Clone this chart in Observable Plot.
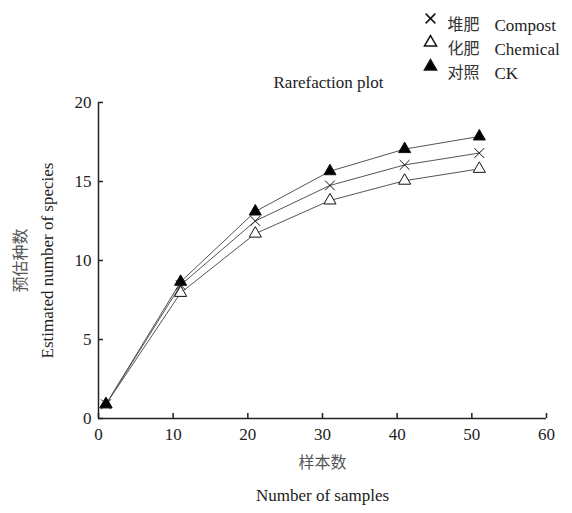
<!DOCTYPE html>
<html><head><meta charset="utf-8">
<script src="https://cdn.jsdelivr.net/npm/d3@7"></script>
<script src="https://cdn.jsdelivr.net/npm/@observablehq/plot@0.6"></script>
<style>body{margin:0;background:#fff}</style>
</head><body><div id="chart"></div>
<script>
const samples = [1, 11, 21, 31, 41, 51];
const compost = [0.9, 8.45, 12.5, 14.75, 16.05, 16.8];
const chemical = [0.9, 7.95, 11.7, 13.8, 15.05, 15.8];
const ck = [0.9, 8.65, 13.1, 15.65, 17.05, 17.85];
const seriesCn = ["堆肥", "化肥", "对照"];
const seriesEn = ["Compost", "Chemical", "CK"];
const xTicks = [0, 10, 20, 30, 40, 50, 60];
const yTicks = [0, 5, 10, 15, 20];

const symbols = ["times", "triangle", "triangle"];
const fills = ["none", "white", "black"];
const series = [compost, chemical, ck];
const data = series.flatMap((vals, i) => vals.map((v, j) => ({x: samples[j], y: v, s: i})));

const serif = "Liberation Serif, Times New Roman, serif";
const cjk = "Noto Sans CJK SC, sans-serif";

const legendMarks = seriesEn.flatMap((n, i) => [
  Plot.dot([n], {frameAnchor: "top-left", dx: 332, dy: -84 + i * 24, symbol: symbols[i], fill: fills[i], stroke: "#111", r: 4.5}),
  Plot.text([seriesCn[i]], {frameAnchor: "top-left", dx: 349, dy: -84 + i * 24, textAnchor: "start", fontSize: 16, fill: "#333", fontFamily: cjk}),
  Plot.text([n], {frameAnchor: "top-left", dx: 396, dy: -84 + i * 24, textAnchor: "start", fontSize: 17, fill: "#222", fontFamily: serif})
]);

const plot = Plot.plot({
  width: 572, height: 513,
  marginLeft: 98, marginRight: 26, marginTop: 102, marginBottom: 95,
  style: {fontFamily: serif, fontSize: "17px", color: "#222", background: "white"},
  x: {domain: [0, 60]},
  y: {domain: [0, 20]},
  marks: [
    Plot.axisX({ticks: xTicks, tickSize: -5, tickPadding: 14, label: null, stroke: "#222", strokeWidth: 1.5}),
    Plot.axisY({ticks: yTicks, tickSize: -5, tickPadding: 12, label: null, stroke: "#222", strokeWidth: 1.5}),
    Plot.ruleY([0], {stroke: "#222", strokeWidth: 1.5}),
    Plot.ruleX([0], {stroke: "#222", strokeWidth: 1.5}),
    Plot.line(data, {x: "x", y: "y", z: "s", stroke: "#555", strokeWidth: 1}),
    Plot.dot(data, {x: "x", y: "y", symbol: d => symbols[d.s], fill: d => fills[d.s], stroke: "#111", strokeWidth: 1, r: 4.5}),
    Plot.text(["Rarefaction plot"], {frameAnchor: "top", dx: 6, dy: -27, fontSize: 17, fill: "#222"}),
    ...legendMarks,
    Plot.text(["预估种数"], {frameAnchor: "left", textAnchor: "middle", dx: -78, rotate: -90, fontSize: 16, fill: "#555", fontFamily: cjk}),
    Plot.text(["Estimated number of species"], {frameAnchor: "left", textAnchor: "middle", dx: -51, rotate: -90, fontSize: 17, fill: "#222"}),
    Plot.text(["样本数"], {frameAnchor: "bottom", dy: 49, fontSize: 16, fill: "#555", fontFamily: cjk}),
    Plot.text(["Number of samples"], {frameAnchor: "bottom", dy: 82, fontSize: 17, fill: "#222"})
  ]
});
document.getElementById("chart").append(plot);
</script></body></html>
